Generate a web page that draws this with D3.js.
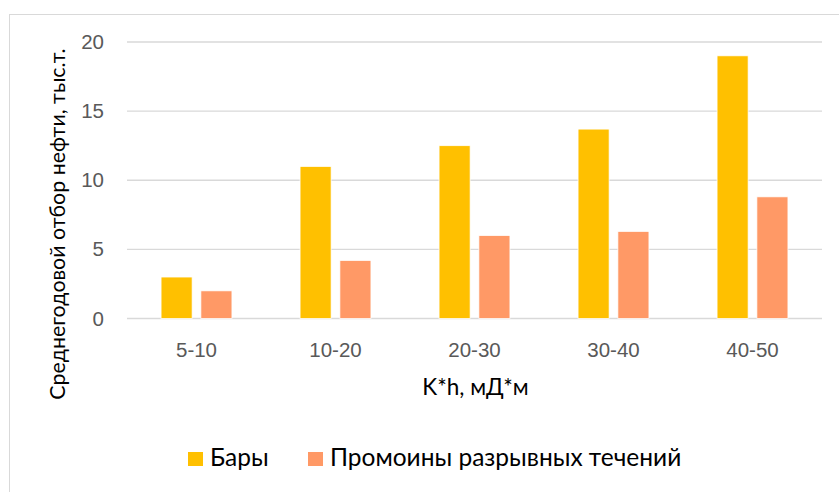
<!DOCTYPE html>
<html lang="ru">
<head>
<meta charset="UTF-8">
<title>Среднегодовой отбор нефти</title>
<script src="https://d3js.org/d3.v7.min.js"></script>
<style>
  body, html { margin: 0; padding: 0; background: #fff; }
  svg { display: block; font-family: Lato, "Open Sans", sans-serif; }
  .tick text { fill: #595959; }
</style>
</head>
<body>
<svg id="chart" width="839" height="492"></svg>
<script>
// categories and values
const categories = ["5-10", "10-20", "20-30", "30-40", "40-50"];
const seriesNames = ["Бары", "Промоины разрывных течений"];
const bars = [3, 11, 12.5, 13.7, 19];
const promoiny = [2, 4.2, 6, 6.3, 8.8];
const yTicks = [0, 5, 10, 15, 20];
const colors = ["#FFC000", "#FF9966"];

const svg = d3.select("#chart");
const plot = { left: 127, right: 822, top: 42, bottom: 318.5 };

// chart frame
svg.append("rect")
  .attr("x", 9.5).attr("y", 14.5)
  .attr("width", 840).attr("height", 490)
  .attr("fill", "none").attr("stroke", "#d9d9d9");

const x = d3.scaleBand().domain(categories)
  .range([plot.left, plot.right])
  .paddingInner(0.49).paddingOuter(0.245);
const xs = d3.scaleBand().domain(seriesNames)
  .range([0, x.bandwidth()])
  .paddingInner(0.22);
const y = d3.scaleLinear().domain([0, 20]).range([plot.bottom, plot.top]);

// gridlines
svg.append("g").selectAll("line")
  .data(yTicks)
  .join("line")
  .attr("x1", plot.left).attr("x2", plot.right)
  .attr("y1", d => y(d)).attr("y2", d => y(d))
  .attr("stroke", "#d9d9d9").attr("stroke-width", 1.3);

// y axis labels
const yAxis = svg.append("g")
  .attr("transform", `translate(${plot.left},0)`)
  .call(d3.axisLeft(y).tickValues(yTicks).tickSize(0).tickPadding(23));
yAxis.select(".domain").remove();
yAxis.selectAll("text").style("font-size", "20.5px");

// x axis labels
const xAxis = svg.append("g")
  .attr("transform", `translate(0,${plot.bottom})`)
  .call(d3.axisBottom(x).tickSize(0).tickPadding(24));
xAxis.select(".domain").remove();
xAxis.selectAll("text").style("font-size", "20.5px");

// bars
const data = categories.map((c, i) => ({ cat: c, values: [bars[i], promoiny[i]] }));
svg.append("g").selectAll("g")
  .data(data)
  .join("g")
  .attr("transform", d => `translate(${x(d.cat)},0)`)
  .selectAll("rect")
  .data(d => d.values.map((v, j) => ({ name: seriesNames[j], v, j })))
  .join("rect")
  .attr("x", d => xs(d.name))
  .attr("y", d => y(d.v))
  .attr("width", xs.bandwidth())
  .attr("height", d => y(0) - y(d.v))
  .attr("fill", d => colors[d.j])
  .attr("stroke", "#fff").attr("stroke-width", 0.75);

// axis titles
svg.append("text")
  .attr("x", (plot.left + plot.right) / 2 + 1).attr("y", 395)
  .attr("text-anchor", "middle")
  .style("font-size", "22.5px").attr("fill", "#000")
  .text("K*h, мД*м");

svg.append("text")
  .attr("transform", "translate(65,224) rotate(-90)")
  .attr("text-anchor", "middle")
  .style("font-size", "21.4px").attr("fill", "#000")
  .text("Среднегодовой отбор нефти, тыс.т.");

// legend
const legend = svg.append("g").attr("transform", "translate(188,452)");
const legendX = [0, 120];
const items = legend.selectAll("g")
  .data(seriesNames)
  .join("g")
  .attr("transform", (d, i) => `translate(${legendX[i]},0)`);
items.append("rect")
  .attr("width", 15).attr("height", 14)
  .attr("fill", (d, i) => colors[i]);
items.append("text")
  .attr("x", 22).attr("y", 14)
  .style("font-size", "24.5px").attr("fill", "#000")
  .text(d => d);
</script>
</body>
</html>
